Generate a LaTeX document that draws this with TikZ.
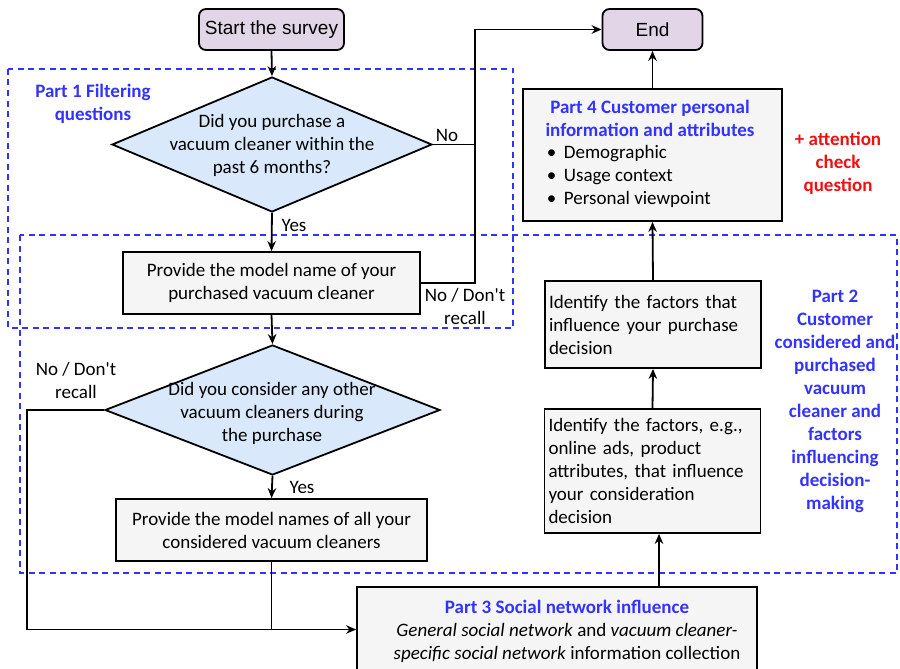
\documentclass[tikz,border=0pt]{standalone}
\usepackage{fontspec}
\setmainfont{Carlito}
\newfontfamily\arialf{Liberation Sans}
\usetikzlibrary{shapes.geometric,arrows.meta}
\definecolor{termfill}{HTML}{E1D5E7}
\definecolor{decfill}{HTML}{DAE8FC}
\definecolor{procfill}{HTML}{F5F5F5}
\definecolor{pblue}{HTML}{3333FF}
\definecolor{pred}{HTML}{F01010}
\begin{document}
\begin{tikzpicture}[x=1pt,y=-1pt,
  line width=1.8pt,
  every node/.style={font=\fontsize{19}{23}\selectfont, inner sep=0pt},
  termbox/.style={draw, fill=termfill, rounded corners=7pt, font=\arialf\fontsize{19}{23}\selectfont},
  procbox/.style={draw, fill=procfill},
  decbox/.style={diamond, draw, fill=decfill, inner sep=0pt},
  grpbox/.style={draw=pblue, dash pattern=on 6pt off 4.5pt, line width=1.7pt},
  arr/.style={-{Stealth[length=10pt,width=8.5pt]}},
  ctext/.style={align=center},
  btitle/.style={text=pblue, font=\bfseries\fontsize{19}{23}\selectfont, align=center},
  rtitle/.style={text=pred, font=\bfseries\fontsize{19}{23}\selectfont, align=center}
]
\useasboundingbox (0,0) rectangle (900,669);

% group frames
\draw[grpbox] (8,69) rectangle (513,328);
\draw[grpbox] (20,235) rectangle (897,573);

% terminals
\node[termbox, minimum width=145pt, minimum height=41pt] (start) at (271.5,29.5) {Start the survey};
\node[termbox, minimum width=100pt, minimum height=41pt] (fin) at (652.5,29.5) {End};

% left column
\node[decbox, minimum width=320pt, minimum height=135pt] (d1) at (272,144.5) {};
\node[ctext] (d1t) at (272,145) {Did you purchase a\\vacuum cleaner within the\\past 6 months?};
\node[procbox, minimum width=297pt, minimum height=62pt, align=center] (b1) at (271.5,283) {Provide the model name of your\\purchased vacuum cleaner};
\node[decbox, minimum width=335pt, minimum height=130pt] (d2) at (272.5,410) {};
\node[ctext] (d2t) at (272,413) {Did you consider any other\\vacuum cleaners during\\the purchase};
\node[procbox, minimum width=311pt, minimum height=62pt, align=center] (b2) at (271.5,530) {Provide the model names of all your\\considered vacuum cleaners};

% part 3
\node[procbox, minimum width=400pt, minimum height=85pt] (p3) at (557,629.5) {};
\node[ctext] (p3t) at (567,631) {\textcolor{pblue}{\bfseries Part 3 Social network influence}\\\textit{General social network} and \textit{vacuum cleaner-}\\\textit{specific social network} information collection};

% right column
\node[procbox, minimum width=216pt, minimum height=124pt, text width=208pt, align=left] (f2) at (652.5,471) {Identify the factors, e.g.,\\online ads, product\\attributes, that influence\\your consideration\\decision};
\node[procbox, minimum width=216pt, minimum height=87pt, text width=208pt, align=left] (f1) at (653,324.5) {Identify the factors that\\influence your purchase\\decision};
\node[procbox, minimum width=259pt, minimum height=132pt] (p4) at (652.5,155) {};
\node[btitle] (p4t) at (650,118) {Part 4 Customer personal\\information and attributes};
\node[align=left, anchor=west] (p4b) at (546,176) {\makebox[17pt][l]{•}Demographic\\\makebox[17pt][l]{•}Usage context\\\makebox[17pt][l]{•}Personal viewpoint};

% side labels
\node[btitle] (p1l) at (93,104) {Part 1 Filtering\\questions};
\node[btitle] (p2l) at (835,401) {Part 2\\Customer\\considered and\\purchased\\vacuum\\cleaner and\\factors\\influencing\\decision-\\making};
\node[rtitle] (att) at (838,163) {+ attention\\check\\question};

% edge labels
\node (lno1) at (447,135) {No};
\node (lyes1) at (294,225) {Yes};
\node[ctext] (lnd1) at (465,306.5) {No / Don\textquotesingle t\\recall};
\node[ctext] (lnd2) at (76,380) {No / Don\textquotesingle t\\recall};
\node (lyes2) at (302,487) {Yes};

% connectors
\coordinate (jn) at (475,29.5);
\coordinate (jl) at (27,410);
\coordinate (c3) at (659,0);
\draw[arr] (start.south) -- (d1.north);
\draw[arr] (d1.south) -- (b1.north);
\draw[arr] (d1.east) -| (jn) -- (fin.west);
\draw (b1.east) -| (jn);
\draw[arr] (b1.south) -- (d2.north);
\draw[arr] (d2.south) -- (b2.north);
\draw[arr] (d2.west) -- (jl) |- (p3.west);
\draw (b2.south) -- (b2.south |- p3.west);
\draw[arr] (c3 |- p3.north) -- (c3 |- f2.south);
\draw[arr] (f2.north) -- (f1.south);
\draw[arr] (f1.north) -- (p4.south);
\draw[arr] (p4.north) -- (fin.south);
\end{tikzpicture}
\end{document}
